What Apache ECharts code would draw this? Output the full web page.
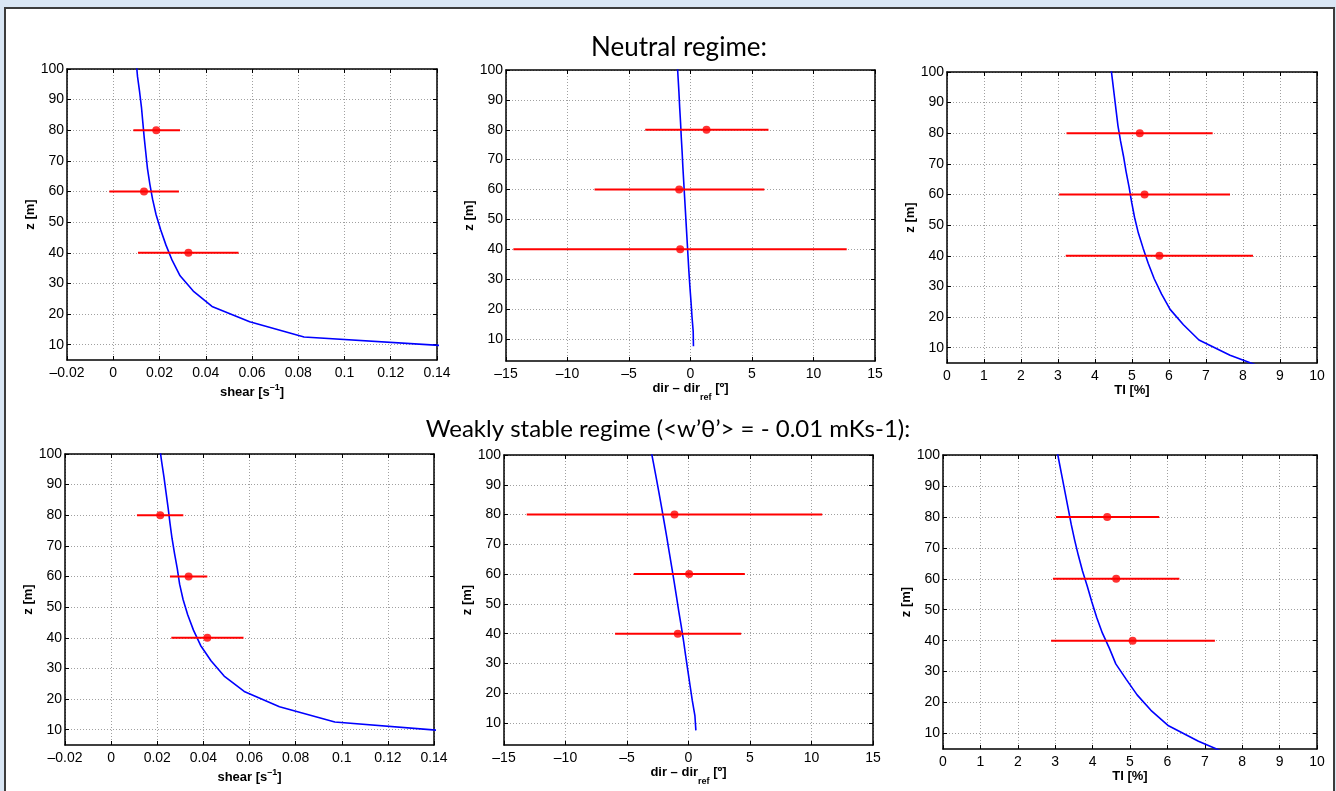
<!DOCTYPE html>
<html><head><meta charset="utf-8">
<script src="https://cdn.jsdelivr.net/npm/echarts@6/dist/echarts.min.js"></script>
<style>
html,body{margin:0;padding:0;background:#d9e6f4;width:1336px;height:791px;overflow:hidden;}
#frame{position:absolute;left:4px;top:7px;width:1331px;height:800px;background:#fff;border:2px solid #3c3c3c;box-sizing:border-box;}
#chart{position:absolute;left:0;top:0;width:1336px;height:791px;}
</style></head><body><div id="frame"></div><div id="chart"></div>
<script>
// ---- data ----
const zLevels = [2.5, 7.5, 12.5, 17.5, 22.5, 27.5, 32.5, 37.5, 42.5, 47.5, 52.5, 57.5, 62.5, 67.5, 72.5, 77.5, 82.5, 87.5, 92.5, 97.5, 102.5];
const shearNeutral = [null, 0.19, 0.0825, 0.059, 0.0427, 0.0346, 0.0289, 0.0255, 0.0228, 0.0205, 0.0185, 0.0170, 0.0158, 0.0148, 0.0141, 0.0134, 0.0128, 0.0122, 0.0114, 0.0105, 0.0099];
const shearStable = [null, 0.18, 0.097, 0.073, 0.0577, 0.049, 0.0433, 0.0388, 0.0357, 0.0332, 0.0312, 0.0297, 0.0287, 0.0275, 0.0264, 0.0255, 0.0247, 0.0238, 0.0229, 0.0219, 0.021];
const dirNeutral = [null, 0.24, 0.22, 0.12, 0.04, -0.05, -0.13, -0.2, -0.27, -0.34, -0.41, -0.48, -0.55, -0.62, -0.68, -0.75, -0.81, -0.88, -0.94, -1.01, -1.08];
const dirStable = [null, 0.6, 0.52, 0.31, 0.13, -0.05, -0.23, -0.40, -0.59, -0.79, -0.98, -1.17, -1.37, -1.57, -1.77, -1.98, -2.19, -2.41, -2.63, -2.86, -3.09];
const tiNeutral = [8.77, 7.65, 6.81, 6.39, 6.03, 5.8, 5.6, 5.44, 5.3, 5.17, 5.07, 4.99, 4.92, 4.84, 4.77, 4.69, 4.62, 4.57, 4.52, 4.47, 4.42];
const tiStable = [7.8, 6.83, 6.03, 5.56, 5.19, 4.9, 4.62, 4.45, 4.26, 4.11, 3.98, 3.86, 3.73, 3.62, 3.52, 3.43, 3.35, 3.27, 3.19, 3.11, 3.03];

const obsHeights = [40, 60, 80];
const shearNeutralObs = [0.0325, 0.0133, 0.0186];
const shearNeutralLo = [0.0107, -0.0017, 0.0087];
const shearNeutralHi = [0.0542, 0.0284, 0.0289];
const shearStableObs = [0.0417, 0.0336, 0.0213];
const shearStableLo = [0.0261, 0.0255, 0.0112];
const shearStableHi = [0.0574, 0.0417, 0.0313];
const dirNeutralObs = [-0.84, -0.92, 1.3];
const dirNeutralLo = [-14.4, -7.8, -3.68];
const dirNeutralHi = [12.7, 6.0, 6.34];
const dirStableObs = [-0.87, 0.05, -1.14];
const dirStableLo = [-5.97, -4.45, -13.15];
const dirStableHi = [4.28, 4.58, 10.87];
const tiNeutralObs = [5.74, 5.34, 5.21];
const tiNeutralLo = [3.21, 3.03, 3.23];
const tiNeutralHi = [8.27, 7.65, 7.18];
const tiStableObs = [5.07, 4.63, 4.39];
const tiStableLo = [2.89, 2.94, 3.02];
const tiStableHi = [7.27, 6.32, 5.78];

const zTicks = [10, 20, 30, 40, 50, 60, 70, 80, 90, 100];
const titleNeutral = 'Neutral regime:';
const titleStable = 'Weakly stable regime (<w\u2019\u03B8\u2019> = - 0.01 mKs-1):';
const yName = 'z [m]';
const nameShear = '{b|shear [s}{sup|\u20131}{b|]}';
const nameDir = '{b|dir \u2013 dir}{sub|ref}{b| [\u00BA]}';
const nameTI = '{b|TI [%]}';

// ---- layout ----
const FONT = 'Liberation Sans, Arial, sans-serif';
const panels = [
  {grid:{left:67, top:69, width:370, height:291}, xr:[-0.02,0.14,0.02], ymin:5, name:nameShear, gap:23, model:shearNeutral, obs:shearNeutralObs, lo:shearNeutralLo, hi:shearNeutralHi},
  {grid:{left:506, top:70, width:369, height:291}, xr:[-15,15,5], ymin:2.6, name:nameDir, gap:12, model:dirNeutral, obs:dirNeutralObs, lo:dirNeutralLo, hi:dirNeutralHi},
  {grid:{left:947, top:72, width:370, height:291}, xr:[0,10,1], ymin:5, name:nameTI, gap:19, model:tiNeutral, obs:tiNeutralObs, lo:tiNeutralLo, hi:tiNeutralHi},
  {grid:{left:65, top:454, width:369, height:291}, xr:[-0.02,0.14,0.02], ymin:5, name:nameShear, gap:23, model:shearStable, obs:shearStableObs, lo:shearStableLo, hi:shearStableHi},
  {grid:{left:504, top:455, width:369, height:290}, xr:[-15,15,5], ymin:2.6, name:nameDir, gap:13, model:dirStable, obs:dirStableObs, lo:dirStableLo, hi:dirStableHi},
  {grid:{left:943, top:455, width:374, height:294}, xr:[0,10,1], ymin:5, name:nameTI, gap:18, model:tiStable, obs:tiStableObs, lo:tiStableLo, hi:tiStableHi}
];

const fmt = v => String(parseFloat(Number(v).toFixed(4))).replace('-', '\u2013');
const axisLine = {show:true, onZero:false, lineStyle:{color:'#000', width:1.5}};
const tick = {show:true, inside:true, length:4, lineStyle:{color:'#000', width:1}};
const gridLine = {show:true, lineStyle:{color:'#a0a0a0', width:1, type:[1,2]}};
const richName = {
  b:{fontFamily:FONT, fontSize:13, fontWeight:'bold', color:'#000'},
  sup:{fontFamily:FONT, fontSize:9, fontWeight:'bold', color:'#000', padding:[0,0,9,0]},
  sub:{fontFamily:FONT, fontSize:9, fontWeight:'bold', color:'#000', padding:[18,0,0,0]}
};

const grids = [], xAxes = [], yAxes = [], series = [];
panels.forEach((p, i) => {
  grids.push(Object.assign({containLabel:false}, p.grid));
  const xBase = {gridIndex:i, type:'value', min:p.xr[0], max:p.xr[1], interval:p.xr[2], axisLine:axisLine, axisTick:tick};
  xAxes.push(Object.assign({}, xBase, {position:'bottom', splitLine:gridLine,
    axisLabel:{show:true, margin:6, color:'#000', fontSize:14, fontFamily:FONT, formatter:fmt, showMinLabel:true, showMaxLabel:true},
    name:p.name, nameLocation:'middle', nameGap:p.gap, nameTextStyle:{rich:richName, verticalAlign:'top'}}));
  xAxes.push(Object.assign({}, xBase, {position:'top', splitLine:{show:false}, axisLabel:{show:false}}));
  const yBase = {gridIndex:i, type:'value', min:p.ymin, max:100, axisLine:axisLine,
    axisTick:Object.assign({}, tick, {customValues:zTicks})};
  yAxes.push(Object.assign({}, yBase, {position:'left',
    splitLine:gridLine,
    axisLabel:{show:true, margin:3, color:'#000', fontSize:14, fontFamily:FONT, customValues:zTicks},
    name:yName, nameLocation:'middle', nameGap:37, nameRotate:90,
    nameTextStyle:{fontFamily:FONT, fontSize:13, fontWeight:'bold', color:'#000', verticalAlign:'middle'}}));
  yAxes.push(Object.assign({}, yBase, {position:'right', splitLine:{show:false}, axisLabel:{show:false, customValues:zTicks}}));

  const lineData = [];
  zLevels.forEach((z, k) => { if (p.model[k] !== null) lineData.push([p.model[k], z]); });
  series.push({type:'line', xAxisIndex:2*i, yAxisIndex:2*i, data:lineData, showSymbol:false, symbol:'none',
    lineStyle:{color:'#0000ff', width:1.6}, clip:true, silent:true, z:2});
  series.push({type:'custom', xAxisIndex:2*i, yAxisIndex:2*i,
    data:obsHeights.map((z, k) => [p.lo[k], p.hi[k], z]),
    encode:{x:[0,1], y:2},
    renderItem:(params, api) => {
      const a = api.coord([api.value(0), api.value(2)]);
      const b = api.coord([api.value(1), api.value(2)]);
      return {type:'line', shape:{x1:a[0], y1:a[1], x2:b[0], y2:b[1]}, style:{stroke:'#ff0000', lineWidth:2}};
    }, silent:true, z:3});
  series.push({type:'scatter', xAxisIndex:2*i, yAxisIndex:2*i,
    data:obsHeights.map((z, k) => [p.obs[k], z]), symbol:'circle', symbolSize:8,
    itemStyle:{color:'#ff0000'}, silent:true, z:4});
});

const chart = echarts.init(document.getElementById('chart'), null, {renderer:'canvas'});
chart.setOption({
  backgroundColor:'transparent',
  animation:false,
  grid:grids, xAxis:xAxes, yAxis:yAxes, series:series,
  graphic:[
    {type:'text', x:679, y:48, style:{text:titleNeutral, fontFamily:'Lato', fontSize:26, fill:'#000', textAlign:'center', textVerticalAlign:'middle'}},
    {type:'text', x:668, y:429, style:{text:titleStable, fontFamily:'Lato', fontSize:24, fill:'#000', textAlign:'center', textVerticalAlign:'middle'}}
  ]
});
</script></body></html>
